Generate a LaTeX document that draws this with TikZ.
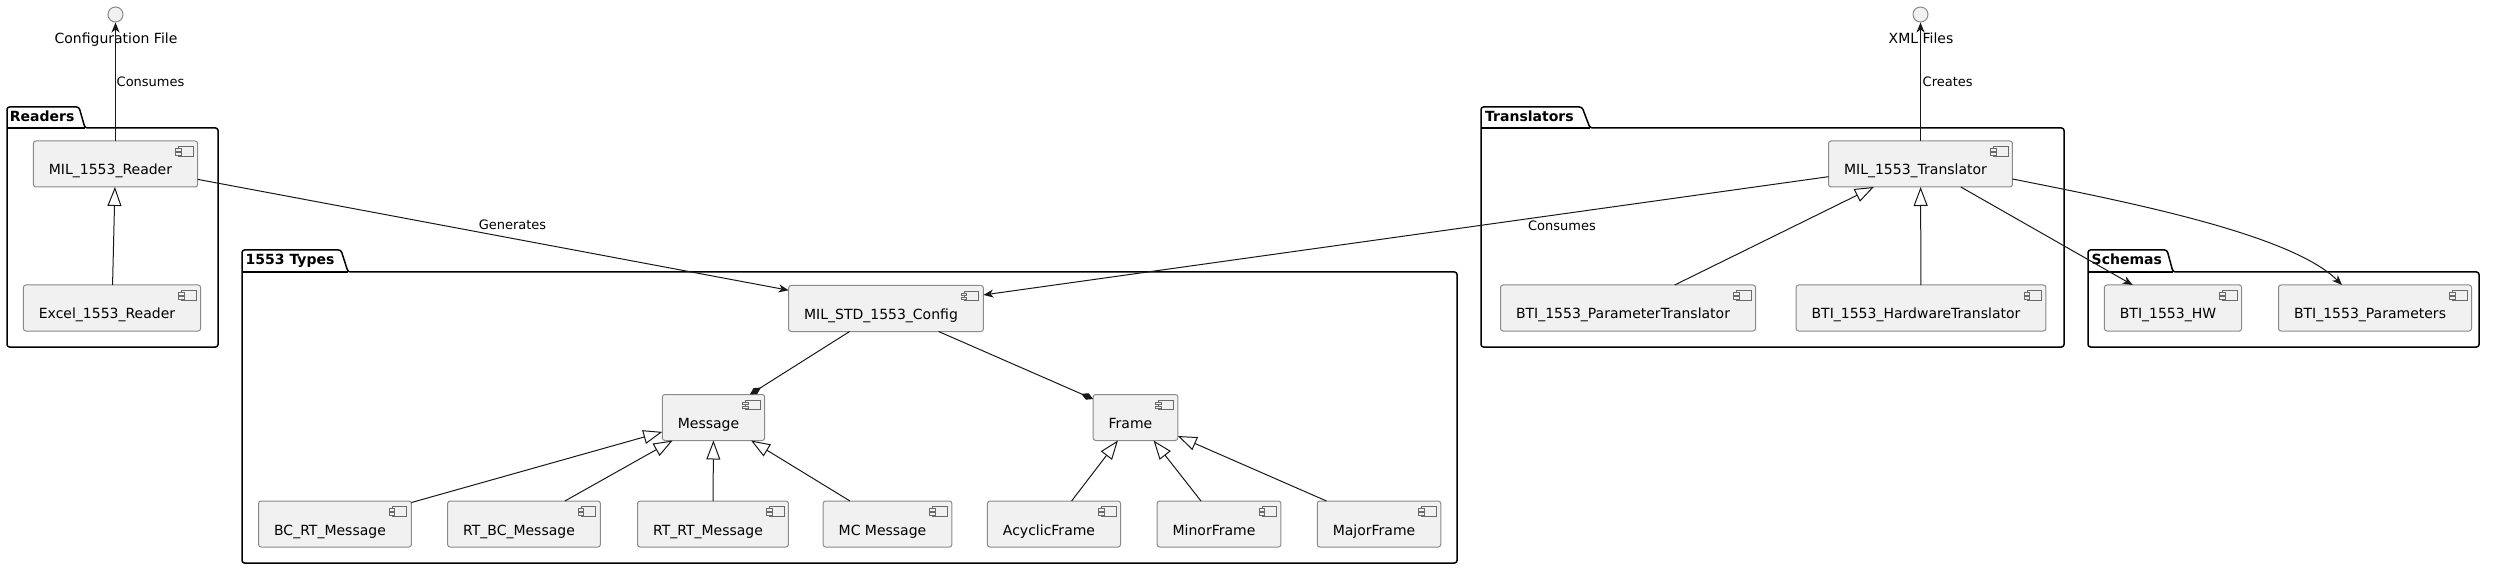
\documentclass[tikz,border=0pt]{standalone}
\usepackage{fontspec}
\setmainfont{DejaVu Sans}
\usetikzlibrary{arrows.meta}
\definecolor{compfill}{HTML}{F1F1F1}
\definecolor{compdraw}{HTML}{8A8A8A}
\definecolor{icondraw}{HTML}{6A6A6A}
\definecolor{linec}{HTML}{181818}
\newcommand\fsA{\fontsize{14pt}{16pt}\selectfont}
\newcommand\fsB{\fontsize{13pt}{15pt}\selectfont}
\newcommand\drawpkg[7]{%
  \draw[pkg] (#1,#7) -- (#1,#2) -- (#3,#2) -- (#4,#5) -- (#6,#5) -- (#6,#7) -- cycle;
  \draw[pkg] (#1,#5) -- (#4,#5);}
\tikzset{
  comp/.style={draw=compdraw, fill=compfill, line width=1pt, rounded corners=2.5pt,
    minimum height=46pt, inner xsep=15.5pt, inner ysep=0pt, outer sep=0pt,
    text height=24pt, text depth=2pt, font=\fsA,
    execute at end node={\hspace*{10pt}}},
  icon/.style={sharp corners, line width=0.8pt, draw=icondraw, fill=compfill},
  iface/.style={circle, draw=compdraw, fill=compfill, line width=1pt, minimum size=15pt, inner sep=0pt},
  pkg/.style={draw=black, line width=1.5pt, rounded corners=2.5pt},
  pkgtitle/.style={font=\fsA\bfseries, inner sep=0pt, anchor=base west},
  lblA/.style={font=\fsA, inner sep=0pt, anchor=base},
  lblB/.style={font=\fsB, inner sep=0pt},
  conn/.style={draw=linec, line width=1pt},
  dep/.style={conn, -{Stealth[length=10pt,width=8pt,inset=3pt]}},
  inh/.style={conn, -{Triangle[length=19pt,width=14pt,fill=white]}},
  compo/.style={conn, -{Diamond[length=13pt,width=7pt]}},
}
\begin{document}
\begin{tikzpicture}[x=1pt,y=-1pt]
\useasboundingbox (0,0) rectangle (2495,569);
% packages
\drawpkg{7}{107}{79}{85}{128}{218}{347}
\drawpkg{242}{250}{341}{348}{272}{1457}{563}
\drawpkg{1481}{107}{1582}{1590}{128}{2064}{347}
\drawpkg{2088}{250}{2167}{2173}{272}{2479}{347}
\node[pkgtitle] (tReaders) at (9.7,122) {Readers};
\node[pkgtitle] (tTypes) at (245.5,265) {1553 Types};
\node[pkgtitle] (tTranslators) at (1485,122) {Translators};
\node[pkgtitle] (tSchemas) at (2091.5,265) {Schemas};
% interfaces
\node[iface] (cfgfile) at (115.5,14.5) {};
\node[lblA] (cfgfilelbl) at (116,44) {Configuration File};
\node[iface] (xmlfile) at (1920.5,14.5) {};
\node[lblA] (xmlfilelbl) at (1921,44) {XML Files};
% components
\node[comp] (reader) at (115.5,164) {MIL\_1553\_Reader};
\node[comp] (excel) at (112,308) {Excel\_1553\_Reader};
\node[comp] (config) at (886,308.5) {MIL\_STD\_1553\_Config};
\node[comp] (message) at (713.5,417.5) {Message};
\node[comp] (frame) at (1135.5,417.5) {Frame};
\node[comp] (bcrt) at (335,524) {BC\_RT\_Message};
\node[comp] (rtbc) at (524,524) {RT\_BC\_Message};
\node[comp] (rtrt) at (713,524) {RT\_RT\_Message};
\node[comp] (mc) at (887.5,524) {MC Message};
\node[comp] (acyclic) at (1054,524) {AcyclicFrame};
\node[comp] (minor) at (1219,524) {MinorFrame};
\node[comp] (major) at (1379,524) {MajorFrame};
\node[comp] (trans) at (1920.5,164) {MIL\_1553\_Translator};
\node[comp] (ptrans) at (1628,308) {BTI\_1553\_ParameterTranslator};
\node[comp] (htrans) at (1921,308) {BTI\_1553\_HardwareTranslator};
\node[comp] (hw) at (2173,308) {BTI\_1553\_HW};
\node[comp] (par) at (2375,308) {BTI\_1553\_Parameters};
% component icons
\foreach \n in {reader,excel,config,message,frame,bcrt,rtbc,rtrt,mc,acyclic,minor,major,trans,ptrans,htrans,hw,par}{
  \begin{scope}[shift={(\n.north east)}]
    \draw[icon] (-19,5.5) rectangle (-4.5,15);
    \draw[icon] (-22,7.5) rectangle (-16.5,10);
    \draw[icon] (-22,11.5) rectangle (-16.5,14);
  \end{scope}}
% connectors
\draw[dep] (reader) -- (cfgfile);
\draw[dep] (trans) -- (xmlfile);
\draw[dep] (reader) -- (config);
\draw[dep] (trans) -- (config);
\draw[dep] (trans) -- (hw);
\draw[dep] ([yshift=-15pt]trans.east) .. controls (2134,203) and (2292,235) .. ([xshift=-33pt]par.north);
\draw[inh] (excel) -- (reader);
\draw[inh] (ptrans) -- (trans);
\draw[inh] (htrans) -- (trans);
\draw[inh] (bcrt) -- (message);
\draw[inh] (rtbc) -- (message);
\draw[inh] (rtrt) -- (message);
\draw[inh] (mc) -- (message);
\draw[inh] (acyclic) -- (frame);
\draw[inh] (minor) -- (frame);
\draw[inh] (major) -- (frame);
\draw[compo] (config) -- (message);
\draw[compo] (config) -- (frame);
% connector labels
\node[lblB, anchor=base west] (lConsumesA) at (116.5,86.5) {Consumes};
\node[lblB, anchor=base west] (lCreates) at (1922.5,86.5) {Creates};
\node[lblB, anchor=base] (lGenerates) at (512.5,230) {Generates};
\node[lblB, anchor=base] (lConsumesB) at (1562,231) {Consumes};
\end{tikzpicture}
\end{document}
